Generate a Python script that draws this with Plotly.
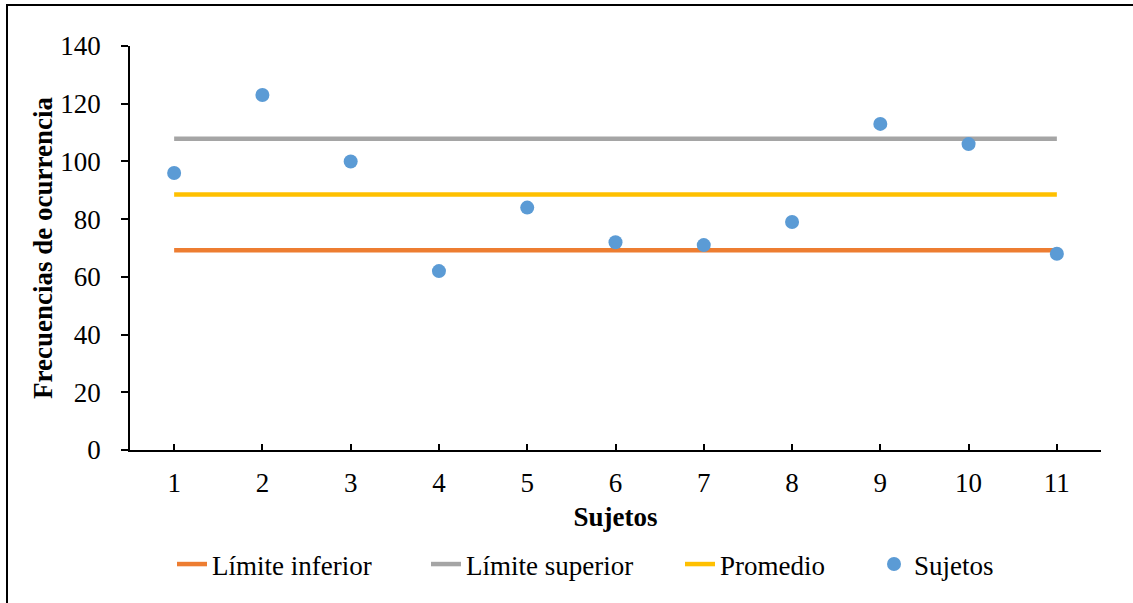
import plotly.graph_objects as go

# Subjects and their frequency of occurrence
sujetos = [1, 2, 3, 4, 5, 6, 7, 8, 9, 10, 11]
frecuencias = [96, 123, 100, 62, 84, 72, 71, 79, 113, 106, 68]

# Control limits (mean ± one standard deviation)
limite_inferior = [69.25] * 11
limite_superior = [107.85] * 11
promedio = [88.55] * 11

x_tickvals = [1, 2, 3, 4, 5, 6, 7, 8, 9, 10, 11, 11.5]
x_ticktext = ["1", "2", "3", "4", "5", "6", "7", "8", "9", "10", "11", ""]
y_tickvals = [0, 20, 40, 60, 80, 100, 120, 140]

FONT = "Liberation Serif, Times New Roman, serif"
FS = 27

W, H = 1133, 603
ML, MR, MT, MB = 130, 32, 46, 153
pw, ph = W - ML - MR, H - MT - MB


def px_x(p):
    return (p - ML) / pw


def px_y(p):
    return (H - MB - p) / ph


fig = go.Figure()
fig.add_trace(go.Scatter(x=sujetos, y=limite_inferior, mode="lines", name="Límite inferior",
                         line=dict(color="#ED7D31", width=4.5)))
fig.add_trace(go.Scatter(x=sujetos, y=limite_superior, mode="lines", name="Límite superior",
                         line=dict(color="#A5A5A5", width=4.5)))
fig.add_trace(go.Scatter(x=sujetos, y=promedio, mode="lines", name="Promedio",
                         line=dict(color="#FFC000", width=4.5)))
fig.add_trace(go.Scatter(x=sujetos, y=frecuencias, mode="markers", name="Sujetos",
                         marker=dict(color="#5B9BD5", size=14), legend="legend2"))

legend_common = dict(orientation="h", yanchor="top", font=dict(size=FS),
                     bgcolor="rgba(0,0,0,0)", traceorder="normal")

fig.update_layout(
    width=W, height=H,
    margin=dict(l=ML, r=MR, t=MT, b=MB, autoexpand=False),
    paper_bgcolor="white", plot_bgcolor="white",
    font=dict(family=FONT, size=FS, color="black"),
    showlegend=True,
    legend=dict(x=px_x(172), xanchor="left", y=px_y(540),
                entrywidth=209, entrywidthmode="pixels", **legend_common),
    legend2=dict(x=px_x(874), xanchor="left", y=px_y(540), **legend_common),
    xaxis=dict(range=[0.5, 11.5], tickvals=x_tickvals, ticktext=x_ticktext,
               showgrid=False, zeroline=False, showline=True, linecolor="black", linewidth=1.5,
               ticks="inside", ticklen=6, tickcolor="black", tickwidth=1.5,
               tickfont=dict(size=FS), ticklabelstandoff=8,
               title=dict(text="<b>Sujetos</b>", font=dict(size=FS), standoff=10)),
    yaxis=dict(range=[0, 140], tickvals=y_tickvals,
               showgrid=False, zeroline=False, showline=True, linecolor="black", linewidth=1.5,
               ticks="outside", ticklen=7, tickcolor="black", tickwidth=1.5,
               tickfont=dict(size=FS), ticklabelstandoff=15,
               title=dict(text="<b>Frecuencias de ocurrencia</b>", font=dict(size=FS), standoff=0)),
)

# Chart frame
fig.add_shape(type="rect", xref="paper", yref="paper",
              x0=px_x(7), x1=px_x(W + 10), y0=px_y(H + 10), y1=px_y(5),
              line=dict(color="black", width=2), fillcolor="rgba(0,0,0,0)", layer="below")

fig.write_html("out.html")
